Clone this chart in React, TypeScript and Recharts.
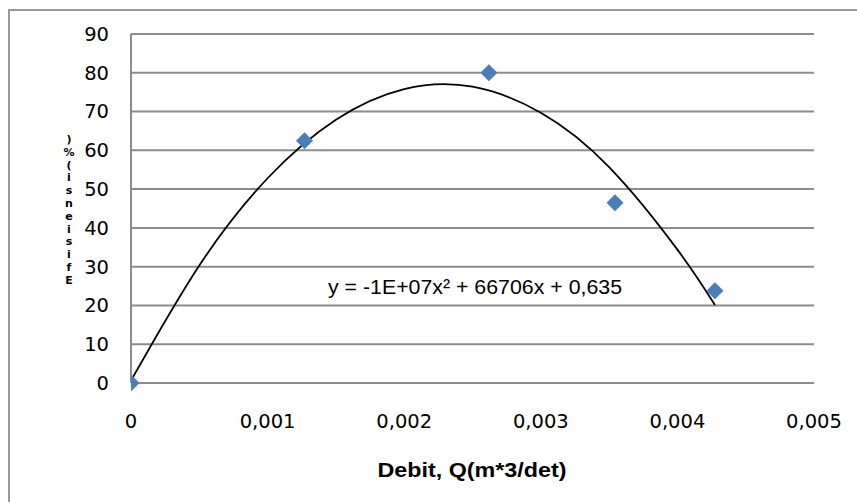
import React from "react";
import { ComposedChart, CartesianGrid, XAxis, YAxis, Scatter, Line, Customized } from "recharts";

// measured points: debit Q (m^3/det) vs efisiensi (%)
const debit = [0, 0.00127, 0.00262, 0.003543, 0.004275];
const efisiensi = [0, 62.5, 80, 46.5, 23.8];

// polynomial trendline
const trendQ = [0, 0.0005, 0.001, 0.0015, 0.002, 0.0025, 0.003, 0.0035, 0.004, 0.004275];
const trendEff = [0.6, 30.3, 52.8, 67.9, 75.8, 76.4, 69.7, 55.7, 34.4, 20.1];

const xTicks = [0, 0.001, 0.002, 0.003, 0.004, 0.005];
const yTicks = [0, 10, 20, 30, 40, 50, 60, 70, 80, 90];

const equation = "y = -1E+07x\u00b2 + 66706x + 0,635";
const xTitle = "Debit, Q(m*3/det)";
const yTitle = "Efisiensi(%)";

const points = debit.map((x, i) => ({ x, y: efisiensi[i] }));
const trend = trendQ.map((x, i) => ({ x, y: trendEff[i] }));

const GRID = "#8c8c8c";
const BLUE = "#4a7ebb";
const tickFont = { fill: "#000", fontSize: 19.5, fontFamily: "DejaVu Sans" };
const narrow = "'Liberation Sans Narrow', 'Liberation Sans', Arial, sans-serif";

function Diamond(props: any) {
  const { cx, cy } = props;
  const r = 8.5;
  return (
    <polygon
      points={`${cx},${cy - r} ${cx + r},${cy} ${cx},${cy + r} ${cx - r},${cy}`}
      fill={BLUE}
    />
  );
}

function Texts() {
  // the y title shows up as a stacked column of glyphs in the source
  const chars = yTitle.split("").reverse();
  return (
    <g>
      <text x={472} y={477} textAnchor="middle" fontFamily={narrow} fontWeight="bold" fontSize={20} textLength={189} lengthAdjust="spacingAndGlyphs">
        {xTitle}
      </text>
      <text x={475} y={294} textAnchor="middle" fontFamily={narrow} fontSize={20} textLength={294} lengthAdjust="spacingAndGlyphs">
        {equation}
      </text>
      {chars.map((c, i) => (
        <text key={i} x={69} y={143 + i * 12.8} textAnchor="middle" fontFamily="DejaVu Sans" fontWeight="bold" fontSize={11}>
          {c}
        </text>
      ))}
    </g>
  );
}

export default function App() {
  return (
    <div style={{ position: "absolute", left: 0, top: 0, width: 857, height: 502, overflow: "hidden", background: "#fff" }}>
      <div
        style={{
          position: "absolute",
          left: 8,
          top: 9,
          width: 900,
          height: 600,
          borderLeft: "2px solid #999",
          borderTop: "2px solid #999",
        }}
      />
      <ComposedChart width={857} height={502} margin={{ top: 34, right: 43, left: 0, bottom: 0 }} style={{ position: "absolute", left: 0, top: 0 }}>
        <CartesianGrid vertical={false} stroke={GRID} strokeWidth={2} />
        <XAxis
          type="number"
          dataKey="x"
          domain={[0, 0.005]}
          ticks={xTicks}
          axisLine={false}
          tickLine={false}
          tickSize={0}
          tickMargin={31}
          height={119}
          tick={tickFont}
          tickFormatter={(v: number) => (v === 0 ? "0" : v.toFixed(3).replace(".", ","))}
          allowDataOverflow
        />
        <YAxis
          type="number"
          dataKey="y"
          domain={[0, 90]}
          ticks={yTicks}
          width={131}
          axisLine={{ stroke: GRID, strokeWidth: 2 }}
          tickLine={false}
          tickSize={0}
          tickMargin={22}
          tick={tickFont}
        />
        <Line
          data={trend}
          dataKey="y"
          type="natural"
          stroke="#000"
          strokeWidth={1.8}
          dot={false}
          activeDot={false}
          isAnimationActive={false}
        />
        <Scatter data={points} dataKey="y" fill={BLUE} shape={<Diamond />} isAnimationActive={false} />
        <Customized component={<Texts />} />
      </ComposedChart>
    </div>
  );
}
